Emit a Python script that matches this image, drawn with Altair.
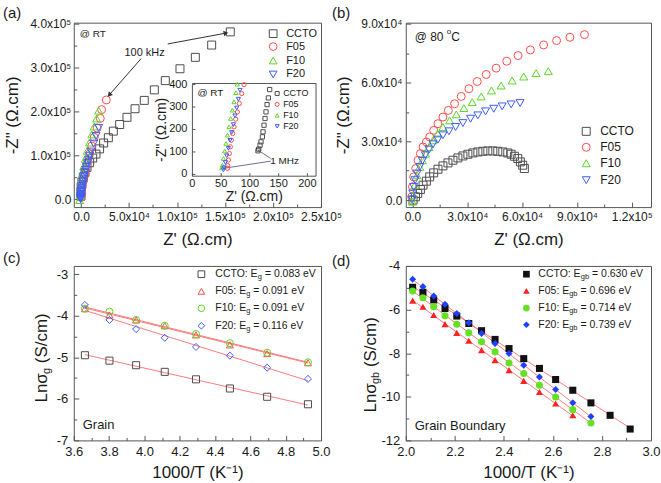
import math
import altair as alt
import pandas as pd

FONT = "Liberation Sans"
INK = "#1a1a1a"
FRAME = "#555555"
SERIES = ["CCTO", "F05", "F10", "F20"]

# ---------------- data: panel (a), RT, main scale ----------------
a_ccto_x = [155500, 136100, 119100, 103100, 87800, 76400, 65900, 56300, 47900, 40300, 33700, 28500,
            23600, 19400, 15600, 12200, 9000, 6300, 4200, 2400, 1000, 200, 0, 0]
a_ccto_y = [381000, 351000, 323000, 297000, 270000, 249000, 225000, 206000, 186500, 170000, 155000, 140000,
            128000, 114600, 102700, 93700, 83000, 72600, 61300, 50100, 38900, 27600, 17000, 7000]
a_f05_x = [26400, 21500, 20100, 16800, 13800, 11200, 9000, 7000, 5300, 3800, 2500, 1400, 600, 100]
a_f05_y = [226000, 204000, 184000, 162000, 141000, 121000, 103000, 86000, 70000, 55000, 41000, 28000, 16000, 5000]
a_f10_x = [18400, 16300, 13900, 11300, 8800, 6500, 4500, 2900, 1600, 600, -200, -800, -1400]
a_f10_y = [201600, 183600, 165600, 147600, 129000, 110000, 92000, 75000, 58000, 42000, 27000, 12000, -2000]
a_f20_x = [18400, 15600, 13200, 10400, 9000, 7800, 6800, 5800, 5000, 4200, 3500, 2900, 2300, 1800, 1300,
           900, 600, 300, 100, 0, -100, -200, -300, -400]
a_f20_y = [162500, 143800, 126500, 108500, 99000, 90000, 82000, 74000, 67000, 60000, 53000, 47000, 41000,
           35000, 30000, 25000, 20000, 16000, 12000, 9000, 6000, 3500, 1500, 0]

# panel (a) inset (high-frequency end)
i_ccto_x = [134.4, 132.1, 129.8, 128.0, 126.3, 124.5, 122.8, 121.7, 119.3, 117.6, 115.3, 114.0]
i_ccto_y = [377.8, 340.7, 311.0, 278.5, 249.0, 219.0, 189.6, 167.4, 145.0, 130.0, 112.6, 105.0]
i_f05_x = [89.8, 85.7, 81.7, 78.2, 75.3, 72.4, 70.0, 67.8, 66.0, 64.3, 62.6, 61.4, 60.8]
i_f05_y = [400, 360, 316, 278, 246, 212, 182, 152, 123, 93, 64, 39, 27]
i_f10_x = [78.2, 75.8, 72.4, 69.6, 66.6, 63.7, 60.9, 58.4, 56.2, 53.9, 52.2, 51.0]
i_f10_y = [402, 364, 323, 286, 249, 212, 175, 138, 104, 71, 41, 29]
i_f20_x = [82.8, 80.0, 77.0, 74.1, 71.3, 68.3, 65.4, 62.6, 59.7, 57.4, 55.0, 54.0]
i_f20_y = [375, 335, 296, 261, 222, 187, 152, 116, 83, 53, 30, 20]
i_xticks = [0, 50, 100, 150, 200]
i_yticks = [0, 100, 200, 300, 400]

# annotations (a): arrows in data units
kHz_from_x = [90300, 62500]
kHz_from_y = [353500, 319800]
kHz_to_x = [151000, 29500]
kHz_to_y = [378200, 237500]
MHz_from_x = [136, 136]
MHz_from_y = [71, 59]
MHz_to_x = [114, 54]
MHz_to_y = [108, 27]

# ---------------- data: panel (b), 80 C ----------------
b_ccto_x = [61250, 60340, 59070, 57620, 55800, 54000, 52160, 49440, 46700, 43980, 41250, 38530, 35800, 33070,
            30340, 27620, 24890, 22160, 19440, 16700, 13980, 11620, 9440, 7620, 5800, 4360, 2900, 1640, 330]
b_ccto_y = [16100, 17800, 19500, 21200, 22370, 23390, 24070, 24580, 24920, 25090, 25090, 24920, 24580, 24070,
            23390, 22540, 21530, 20340, 18990, 17460, 15760, 13900, 11860, 9660, 7630, 5420, 3390, 1700, 0]
b_f05_x = [94150, 86180, 78880, 71780, 64530, 57800, 51600, 45800, 40360, 35450, 30900, 26700, 23070, 19640,
           16700, 13960, 11620, 9440, 7620, 5800, 4360, 3050, 1800, 700, 0, -400]
b_f05_y = [84400, 83050, 81360, 79150, 76600, 73730, 70850, 67300, 64070, 60500, 56800, 52880, 49150, 45760,
           42370, 38980, 35590, 32200, 29660, 27100, 23730, 20340, 16100, 11850, 6760, 1700]
b_f10_x = [74350, 67640, 60870, 54550, 48550, 43250, 37640, 32730, 28150, 24000, 20350, 16700, 13800, 11250,
           9070, 7250, 5450, 4000, 2540, 1270, 360, 0]
b_f10_y = [65760, 64750, 63050, 61020, 58470, 55930, 52880, 50000, 46950, 43730, 40680, 37290, 33900, 30500,
           27100, 23730, 20340, 16950, 12700, 7630, 2540, -800]
b_f20_x = [58900, 54000, 49090, 44500, 40000, 35800, 31800, 27600, 23620, 19980, 16700, 13960, 11250, 9070,
           7070, 5450, 4000, 2540, 1450, 700, 180, -200]
b_f20_y = [49490, 48810, 47800, 46610, 45250, 43220, 41530, 39300, 37290, 35080, 33050, 30850, 28470, 25760,
           22880, 20000, 16950, 13560, 10170, 6780, 3390, 340]

# ---------------- data: panel (c), grain ----------------
c_x = [3.663, 3.802, 3.953, 4.115, 4.292, 4.484, 4.695, 4.926]
c_ccto = [-4.95, -5.08, -5.19, -5.35, -5.53, -5.75, -5.95, -6.13]
c_f05 = [-3.83, -3.98, -4.10, -4.24, -4.46, -4.70, -4.91, -5.13]
c_f10 = [-3.83, -3.90, -4.10, -4.24, -4.44, -4.66, -4.89, -5.12]
c_f20 = [-3.74, -4.10, -4.32, -4.53, -4.75, -4.96, -5.25, -5.52]
c_eg = ["0.083", "0.091", "0.091", "0.116"]

# ---------------- data: panel (d), grain boundary ----------------
d_x = [2.028, 2.070, 2.114, 2.160, 2.208, 2.257, 2.309, 2.364, 2.421, 2.481, 2.545, 2.611, 2.681, 2.755,
       2.833, 2.915]
d_ccto = [-4.98, -5.21, -5.56, -5.95, -6.30, -6.64, -6.97, -7.37, -7.79, -8.25, -8.70, -9.21, -9.70, -10.28,
          -10.85, -11.48]
d_f05 = [-5.59, -5.87, -6.25, -6.67, -7.07, -7.43, -7.86, -8.32, -8.78, -9.27, -9.78, -10.31, -10.85]
d_f10 = [-5.15, -5.46, -5.87, -6.29, -6.67, -7.07, -7.48, -7.94, -8.45, -8.93, -9.47, -10.01, -10.59, -11.20]
d_f20 = [-4.61, -4.95, -5.38, -5.76, -6.18, -6.61, -7.10, -7.56, -8.02, -8.55, -9.09, -9.67, -10.27, -10.90]
d_egb = ["0.630", "0.696", "0.714", "0.739"]

# ---------------- styles ----------------
STY_A = {"CCTO": ("square", "#4d4d4d"), "F05": ("circle", "#ff4d4d"),
         "F10": ("triangle-up", "#5cd62a"), "F20": ("triangle-down", "#3d5cff")}
STY_C = {"CCTO": ("square", "#4d4d4d"), "F05": ("triangle-up", "#ff4d4d"),
         "F10": ("circle", "#5cd62a"), "F20": ("diamond", "#3d5cff")}
STY_D = {"CCTO": ("square", "#111111"), "F05": ("triangle-up", "#ff2222"),
         "F10": ("circle", "#66e022"), "F20": ("diamond", "#2040ff")}
FIT = "#ff7b7b"

ONE = pd.DataFrame({"k": [0]})

WID = {' ': .278, '(': .333, ')': .333, '.': .278, ':': .278, '=': .584, '@': 1.015, 'C': .722, 'T': .611,
       'O': .778, 'F': .611, 'E': .667, 'V': .667, 'e': .556, 'g': .556, 'b': .556, 'o': .556, 'L': .556,
       'n': .556, 'σ': .57, 'S': .667, '/': .278, 'c': .5, 'm': .833, 'R': .722, 'k': .5, 'H': .722,
       'z': .5, 'M': .833}


def tw(s, size):
    return sum(WID.get(ch, .556) for ch in s) * size


def long_df(xs, ys, sty):
    rows = []
    for name, sx, sy in zip(SERIES, xs, ys):
        for xv, yv in zip(sx, sy):
            rows.append({"series": name, "x": xv, "y": yv, "shape": sty[name][0], "color": sty[name][1]})
    return pd.DataFrame(rows)


def label(t, x, y, size, align="left", baseline="middle", angle=0, color=INK):
    return alt.Chart(ONE).mark_text(text=t, fontSize=size, align=align, baseline=baseline, angle=angle,
                                    color=color, font=FONT).encode(x=alt.value(x), y=alt.value(y))


def rich(pieces, x, y, angle=0):
    out = []
    adv = 0.0
    for t, size, shift in pieces:
        stripped = t.lstrip(" ")
        adv += tw(t[:len(t) - len(stripped)], size)
        if angle == 0:
            px, py = x + adv, y + shift
        else:
            px, py = x + shift, y - adv
        out.append(label(stripped, px, py, size, angle=angle))
        adv += tw(stripped, size)
    return out


def sym(x, y, shape, color, size, filled):
    return alt.Chart(ONE).mark_point(shape=shape, size=size, filled=filled, color=color, strokeWidth=1,
                                     opacity=1).encode(x=alt.value(x), y=alt.value(y))


def ax_major(orient, values, label_size, label_pad, title="", title_pad=4, expr=None, fmt=None, tick=5,
             title_size=17):
    kw = dict(orient=orient, values=values, tickSize=tick, offset=-tick, domain=False, grid=False,
              tickColor=FRAME, tickWidth=1, labelFontSize=label_size, labelPadding=label_pad, labelColor=INK,
              labelFlush=False, labelOverlap=False, labelFont=FONT, title=title, titleFontSize=title_size,
              titlePadding=title_pad, titleFont=FONT, titleFontWeight="normal", titleColor=INK)
    if expr:
        kw["labelExpr"] = expr
    if fmt:
        kw["format"] = fmt
    return alt.Axis(**kw)


def ax_minor(orient, values, tick=3):
    return alt.Axis(orient=orient, values=values, tickSize=tick, offset=-tick, domain=False, grid=False,
                    labels=False, tickColor=FRAME, tickWidth=1, title="")


def sci_expr(pairs):
    expr = "''"
    for v, s in reversed(pairs):
        expr = f"datum.value == {v} ? '{s}' : ({expr})"
    return expr


def points(df, sx, sy, axx, axy, size, filled=False):
    return alt.Chart(df).mark_point(filled=filled, size=size, strokeWidth=1, opacity=1).encode(
        x=alt.X("x:Q", scale=sx, axis=axx), y=alt.Y("y:Q", scale=sy, axis=axy),
        shape=alt.Shape("shape:N", scale=None), color=alt.Color("color:N", scale=None))


def minor_layer(df, sx, sy, axx, axy):
    return alt.Chart(df).mark_point(opacity=0).encode(
        x=alt.X("x:Q", scale=sx, axis=axx), y=alt.Y("y:Q", scale=sy, axis=axy))


W1, W2, H1, H2 = 248, 246, 185, 175
ZT = 'Z\' (Ω.cm)'
ZZT = '-Z" (Ω.cm)'

# ================= panel (a) =================
sxa = alt.Scale(domain=[-7500, 250000], nice=False, zero=False)
sya = alt.Scale(domain=[-18000, 402000], nice=False, zero=False)
df_a = long_df([a_ccto_x, a_f05_x, a_f10_x, a_f20_x], [a_ccto_y, a_f05_y, a_f10_y, a_f20_y], STY_A)
xa_lab = sci_expr([(0, "0.0"), (50000, "5.0x10⁴"), (100000, "1.0x10⁵"), (150000, "1.5x10⁵"),
                   (200000, "2.0x10⁵"), (250000, "2.5x10⁵")])
ya_lab = sci_expr([(0, "0.0"), (100000, "1.0x10⁵"), (200000, "2.0x10⁵"), (300000, "3.0x10⁵"),
                   (400000, "4.0x10⁵")])
pts_a = points(df_a, sxa, sya,
               ax_major("bottom", [0, 50000, 100000, 150000, 200000, 250000], 12, 4, ZT, 10, xa_lab),
               ax_major("left", [0, 100000, 200000, 300000, 400000], 12, 3, ZZT, 8, ya_lab), 64)
min_a = minor_layer(df_a, sxa, sya, ax_minor("bottom", [25000, 75000, 125000, 175000, 225000]),
                    ax_minor("left", [50000, 150000, 250000, 350000]))

pxx = W1 / (250000 + 7500)
pxy = H1 / (402000 + 18000)
arrows = pd.DataFrame({"x0": kHz_from_x, "y0": kHz_from_y, "x1": kHz_to_x, "y1": kHz_to_y})
arrows["ang"] = [
    math.degrees(math.atan2((x1 - x0) * pxx, (y1 - y0) * pxy)) % 360
    for x0, y0, x1, y1 in zip(kHz_from_x, kHz_from_y, kHz_to_x, kHz_to_y)]
arr_rule = alt.Chart(arrows).mark_rule(color="#333333", strokeWidth=1).encode(
    x=alt.X("x0:Q", scale=sxa, axis=None), y=alt.Y("y0:Q", scale=sya, axis=None), x2="x1:Q", y2="y1:Q")
arr_head = alt.Chart(arrows).mark_point(shape="triangle-up", filled=True, size=30, color="#333333",
                                        opacity=1).encode(
    x=alt.X("x1:Q", scale=sxa, axis=None), y=alt.Y("y1:Q", scale=sya, axis=None),
    angle=alt.Angle("ang:Q", scale=None))

leg_a = []
for i, name in enumerate(SERIES):
    yy = [11, 24, 38, 52][i]
    leg_a.append(sym(200, yy, STY_A[name][0], STY_A[name][1], 60, False))
    leg_a.append(label(name, 213, yy, 11))

main_a = alt.layer(pts_a, min_a, arr_rule, arr_head, label("100 kHz", 71, 30, 11, align="center"),
                   label("@ RT", 6, 11, 10), label("(a)", -71, -10, 15), *leg_a
                   ).resolve_axis(x="independent", y="independent")

# inset: its own scales mapped into a sub-rectangle of panel (a); ticks and labels drawn from those scales
IX0, IX1, IY0, IY1 = 119, 243, 154, 61
sxi = alt.Scale(domain=[0, 215], range=[IX0, IX1], nice=False, zero=False)
syi = alt.Scale(domain=[-8, 405], range=[IY0, IY1], nice=False, zero=False)
df_i = long_df([i_ccto_x, i_f05_x, i_f10_x, i_f20_x], [i_ccto_y, i_f05_y, i_f10_y, i_f20_y], STY_A)
inset_frame = alt.Chart(ONE).mark_rect(fill="white", stroke=FRAME, strokeWidth=1).encode(
    x=alt.value(IX0), x2=alt.value(IX1), y=alt.value(IY1), y2=alt.value(IY0))
pts_i = alt.Chart(df_i).mark_point(filled=False, size=18, strokeWidth=1, opacity=1).encode(
    x=alt.X("x:Q", scale=sxi, axis=None), y=alt.Y("y:Q", scale=syi, axis=None),
    shape=alt.Shape("shape:N", scale=None), color=alt.Color("color:N", scale=None))
xt_df = pd.DataFrame({"v": i_xticks})
yt_df = pd.DataFrame({"v": i_yticks})
i_xtick = alt.Chart(xt_df).mark_rule(color=FRAME, strokeWidth=1).encode(
    x=alt.X("v:Q", scale=sxi, axis=None), y=alt.value(IY0 - 3), y2=alt.value(IY0))
i_ytick = alt.Chart(yt_df).mark_rule(color=FRAME, strokeWidth=1).encode(
    y=alt.Y("v:Q", scale=syi, axis=None), x=alt.value(IX0), x2=alt.value(IX0 + 3))
i_xlab = alt.Chart(xt_df).mark_text(fontSize=11, font=FONT, color=INK, baseline="middle",
                                    align="center").encode(
    x=alt.X("v:Q", scale=sxi, axis=None), y=alt.value(IY0 + 8), text="v:N")
i_ylab = alt.Chart(yt_df).mark_text(fontSize=11, font=FONT, color=INK, baseline="middle",
                                    align="right").encode(
    y=alt.Y("v:Q", scale=syi, axis=None), x=alt.value(IX0 - 5), text="v:N")
mhz = pd.DataFrame({"x0": MHz_from_x, "y0": MHz_from_y, "x1": MHz_to_x, "y1": MHz_to_y})
mhz_rule = alt.Chart(mhz).mark_rule(color="#6a7396", strokeWidth=1).encode(
    x=alt.X("x0:Q", scale=sxi, axis=None), y=alt.Y("y0:Q", scale=syi, axis=None), x2="x1:Q", y2="y1:Q")
leg_i = []
for i, name in enumerate(SERIES):
    yy = [71, 82, 93, 104][i]
    leg_i.append(sym(204, yy, STY_A[name][0], STY_A[name][1], 16, False))
    leg_i.append(label(name, 210, yy, 9))
inset = alt.layer(inset_frame, i_xtick, i_ytick, i_xlab, i_ylab, mhz_rule, pts_i,
                  label(ZT, (IX0 + IX1) / 2, IY0 + 21, 14, align="center"),
                  label(ZZT, 89, (IY0 + IY1) / 2, 14, align="center", angle=270),
                  label("@ RT", 124, 71, 10), label("1 MHz", 197, 139, 10), *leg_i)

panel_a = alt.layer(main_a, inset).resolve_scale(x="independent", y="independent").properties(
    width=W1, height=H1)

# ================= panel (b) =================
sxb = alt.Scale(domain=[-3650, 130550], nice=False, zero=False)
syb = alt.Scale(domain=[-3560, 90510], nice=False, zero=False)
df_b = long_df([b_ccto_x, b_f05_x, b_f10_x, b_f20_x], [b_ccto_y, b_f05_y, b_f10_y, b_f20_y], STY_A)
xb_lab = sci_expr([(0, "0.0"), (30000, "3.0x10⁴"), (60000, "6.0x10⁴"), (90000, "9.0x10⁴"),
                   (120000, "1.2x10⁵")])
yb_lab = sci_expr([(0, "0.0"), (30000, "3.0x10⁴"), (60000, "6.0x10⁴"), (90000, "9.0x10⁴")])
pts_b = points(df_b, sxb, syb,
               ax_major("bottom", [0, 30000, 60000, 90000, 120000], 12, 4, ZT, 10, xb_lab),
               ax_major("left", [0, 30000, 60000, 90000], 12, 4, ZZT, 8, yb_lab), 64)
min_b = minor_layer(df_b, sxb, syb, ax_minor("bottom", [15000, 45000, 75000, 105000]),
                    ax_minor("left", [15000, 45000, 75000]))
leg_b = []
for i, name in enumerate(SERIES):
    yy = [109, 125, 141, 158][i]
    leg_b.append(sym(181, yy, STY_A[name][0], STY_A[name][1], 64, False))
    leg_b.append(label(name, 195, yy, 12))
temp_b = rich([("@ 80 ", 12, 0), ("o", 8, -5), ("C", 12, 0)], 9, 14)
panel_b = alt.layer(pts_b, min_b, label("(b)", -74, -10, 15), *temp_b, *leg_b
                    ).resolve_axis(x="independent", y="independent").properties(width=W2, height=H1)

# ================= panel (c) =================
sxc = alt.Scale(domain=[3.6, 5.0], nice=False, zero=False)
syc = alt.Scale(domain=[-7, -2.8], nice=False, zero=False)
df_c = long_df([c_x] * 4, [c_ccto, c_f05, c_f10, c_f20], STY_C)
fit_c = alt.Chart(df_c).transform_regression("x", "y", groupby=["series"]).mark_line(
    color=FIT, strokeWidth=1).encode(x=alt.X("x:Q", scale=sxc, axis=None), y=alt.Y("y:Q", scale=syc, axis=None),
                                     detail="series:N")
pts_c = points(df_c, sxc, syc,
               ax_major("bottom", [3.6, 3.8, 4.0, 4.2, 4.4, 4.6, 4.8, 5.0], 13, 5, "1000/T (K⁻¹)", 6,
                        fmt=".1f"),
               ax_major("left", [-7, -6, -5, -4, -3], 13, 6, "", 0, expr="'' + datum.value"), 50)
min_c = minor_layer(df_c, sxc, syc, ax_minor("bottom", [3.7, 3.9, 4.1, 4.3, 4.5, 4.7, 4.9]),
                    ax_minor("left", [-6.5, -5.5, -4.5, -3.5]))
leg_c = []
for i, name in enumerate(SERIES):
    yy = [8.3, 25.5, 42.5, 60][i]
    leg_c.append(sym(128, yy, STY_C[name][0], STY_C[name][1], 45, False))
    leg_c += rich([(f"{name}: E", 10.5, 0), ("g", 7.5, 3), (f" = {c_eg[i]} eV", 10.5, 0)], 142, yy)
title_c = rich([("Lnσ", 17, 0), ("g", 11, 5), (" (S/cm)", 17, 0)], -32, 137, angle=270)
panel_c = alt.layer(fit_c, pts_c, min_c, label("Grain", 9, 160, 13), label("(c)", -71, -8, 15),
                    *title_c, *leg_c).resolve_axis(x="independent", y="independent").properties(
    width=W1, height=H2)

# ================= panel (d) =================
sxd = alt.Scale(domain=[2.0, 3.0], nice=False, zero=False)
syd = alt.Scale(domain=[-12, -4], nice=False, zero=False)
df_d = long_df([d_x] * 4, [d_ccto, d_f05, d_f10, d_f20], STY_D)
fit_d = alt.Chart(df_d).transform_regression("x", "y", groupby=["series"]).mark_line(
    color=FIT, strokeWidth=1).encode(x=alt.X("x:Q", scale=sxd, axis=None), y=alt.Y("y:Q", scale=syd, axis=None),
                                     detail="series:N")
pts_d = points(df_d, sxd, syd,
               ax_major("bottom", [2.0, 2.2, 2.4, 2.6, 2.8, 3.0], 13, 5, "1000/T (K⁻¹)", 6, fmt=".1f"),
               ax_major("left", [-12, -10, -8, -6, -4], 13, 6, "", 0, expr="'' + datum.value"), 50, True)
min_d = minor_layer(df_d, sxd, syd, ax_minor("bottom", [2.1, 2.3, 2.5, 2.7, 2.9]),
                    ax_minor("left", [-11, -9, -7, -5]))
leg_d = []
for i, name in enumerate(SERIES):
    yy = [8.3, 25, 42.3, 59][i]
    leg_d.append(sym(121, yy, STY_D[name][0], STY_D[name][1], 45, True))
    leg_d += rich([(f"{name}: E", 10.5, 0), ("gb", 7.5, 3), (f" = {d_egb[i]} eV", 10.5, 0)], 133, yy)
title_d = rich([("Lnσ", 17, 0), ("gb", 11, 5), (" (S/cm)", 17, 0)], -35, 147, angle=270)
panel_d = alt.layer(fit_d, pts_d, min_d, label("Grain Boundary", 9, 161, 13), label("(d)", -74, -5, 15),
                    *title_d, *leg_d).resolve_axis(x="independent", y="independent").properties(
    width=W2, height=H2)

chart = alt.concat(panel_a, panel_b, panel_c, panel_d, columns=2, spacing={"row": 59, "column": 85},
                   bounds="flush").properties(
    padding={"left": 2, "top": 4, "right": 0, "bottom": 0}, background="white"
).configure(font=FONT).configure_view(stroke=FRAME, strokeWidth=1)

chart.save("out.html", embed_options={"renderer": "svg", "actions": False})
